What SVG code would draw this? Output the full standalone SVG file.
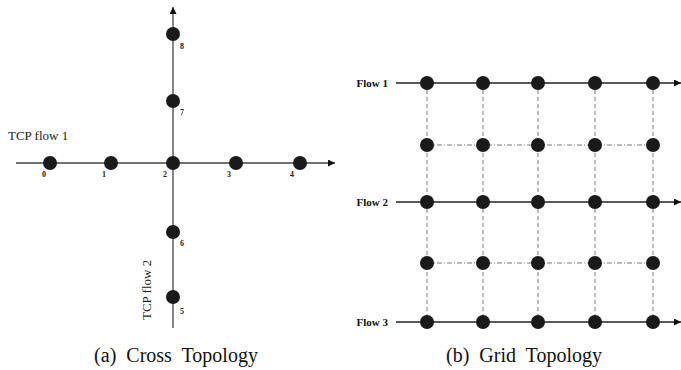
<svg xmlns="http://www.w3.org/2000/svg" width="681" height="370" viewBox="0 0 681 370">
<defs>
<marker id="arr" viewBox="0 0 10 10" refX="10" refY="5" markerWidth="7" markerHeight="7" markerUnits="userSpaceOnUse" orient="auto">
<path d="M0,0 L10,5 L0,10 z" fill="#111"/>
</marker>
<style>
.n{fill:#1a1a1a}
.ax{stroke:#444;stroke-width:1.3;fill:none}
.fl{stroke:#222;stroke-width:1.3;fill:none}
.vd{stroke:#555;stroke-width:0.8;stroke-dasharray:4,3;fill:none}
.hd{stroke:#555;stroke-width:0.8;stroke-dasharray:5,2,1,2;fill:none}
.lb{font-family:"Liberation Serif","Times New Roman",serif;font-size:8px;font-weight:bold;fill:#222}
.tl{font-family:"Liberation Serif","Times New Roman",serif;font-size:13px;fill:#222}
.fw{font-family:"Liberation Serif","Times New Roman",serif;font-size:11px;font-weight:bold;fill:#111}
.cap{font-family:"Liberation Serif","Times New Roman",serif;font-size:20px;word-spacing:5px;fill:#111}
</style>
</defs>
<rect width="681" height="370" fill="#fff"/>
<g id="connectors">
<line class="ax" x1="16" y1="163" x2="335" y2="163" marker-end="url(#arr)"/>
<line class="ax" x1="173" y1="328" x2="173" y2="7" marker-end="url(#arr)"/>
<line class="vd" x1="427" y1="83" x2="427" y2="322"/>
<line class="vd" x1="483" y1="83" x2="483" y2="322"/>
<line class="vd" x1="538" y1="83" x2="538" y2="322"/>
<line class="vd" x1="595" y1="83" x2="595" y2="322"/>
<line class="vd" x1="653" y1="83" x2="653" y2="322"/>
<line class="hd" x1="427" y1="145" x2="653" y2="145"/>
<line class="hd" x1="427" y1="263" x2="653" y2="263"/>
<line class="fl" x1="396" y1="83" x2="681" y2="83" marker-end="url(#arr)"/>
<line class="fl" x1="396" y1="202" x2="681" y2="202" marker-end="url(#arr)"/>
<line class="fl" x1="396" y1="322" x2="681" y2="322" marker-end="url(#arr)"/>
</g>
<g id="cross">
<g id="n0"><circle class="n" cx="50" cy="163" r="7"/><text class="lb" x="42" y="177">0</text></g>
<g id="n1"><circle class="n" cx="111" cy="163" r="7"/><text class="lb" x="102" y="177">1</text></g>
<g id="n2"><circle class="n" cx="173" cy="163" r="7"/><text class="lb" x="163" y="177">2</text></g>
<g id="n3"><circle class="n" cx="236" cy="163" r="7"/><text class="lb" x="227" y="177">3</text></g>
<g id="n4"><circle class="n" cx="300" cy="163" r="7"/><text class="lb" x="290" y="177">4</text></g>
<g id="n8"><circle class="n" cx="173" cy="34" r="7"/><text class="lb" x="180" y="49">8</text></g>
<g id="n7"><circle class="n" cx="173" cy="101" r="7"/><text class="lb" x="180" y="115">7</text></g>
<g id="n6"><circle class="n" cx="173" cy="232" r="7"/><text class="lb" x="180" y="246">6</text></g>
<g id="n5"><circle class="n" cx="173" cy="297" r="7"/><text class="lb" x="180" y="314">5</text></g>
<text class="tl" x="8" y="140">TCP flow 1</text>
<text class="tl" transform="translate(151,320) rotate(-90)">TCP flow 2</text>
<text class="cap" x="176" y="362" text-anchor="middle">(a) Cross Topology</text>
</g>
<g id="grid">
<g id="r1">
<circle class="n" cx="427" cy="83" r="7"/><circle class="n" cx="483" cy="83" r="7"/><circle class="n" cx="538" cy="83" r="7"/><circle class="n" cx="595" cy="83" r="7"/><circle class="n" cx="653" cy="83" r="7"/>
</g>
<g id="r2">
<circle class="n" cx="427" cy="145" r="7"/><circle class="n" cx="483" cy="145" r="7"/><circle class="n" cx="538" cy="145" r="7"/><circle class="n" cx="595" cy="145" r="7"/><circle class="n" cx="653" cy="145" r="7"/>
</g>
<g id="r3">
<circle class="n" cx="427" cy="202" r="7"/><circle class="n" cx="483" cy="202" r="7"/><circle class="n" cx="538" cy="202" r="7"/><circle class="n" cx="595" cy="202" r="7"/><circle class="n" cx="653" cy="202" r="7"/>
</g>
<g id="r4">
<circle class="n" cx="427" cy="263" r="7"/><circle class="n" cx="483" cy="263" r="7"/><circle class="n" cx="538" cy="263" r="7"/><circle class="n" cx="595" cy="263" r="7"/><circle class="n" cx="653" cy="263" r="7"/>
</g>
<g id="r5">
<circle class="n" cx="427" cy="322" r="7"/><circle class="n" cx="483" cy="322" r="7"/><circle class="n" cx="538" cy="322" r="7"/><circle class="n" cx="595" cy="322" r="7"/><circle class="n" cx="653" cy="322" r="7"/>
</g>
<text class="fw" x="388" y="87" text-anchor="end">Flow 1</text>
<text class="fw" x="388" y="206" text-anchor="end">Flow 2</text>
<text class="fw" x="388" y="326" text-anchor="end">Flow 3</text>
<text class="cap" x="524" y="362" text-anchor="middle">(b) Grid Topology</text>
</g>
</svg>
